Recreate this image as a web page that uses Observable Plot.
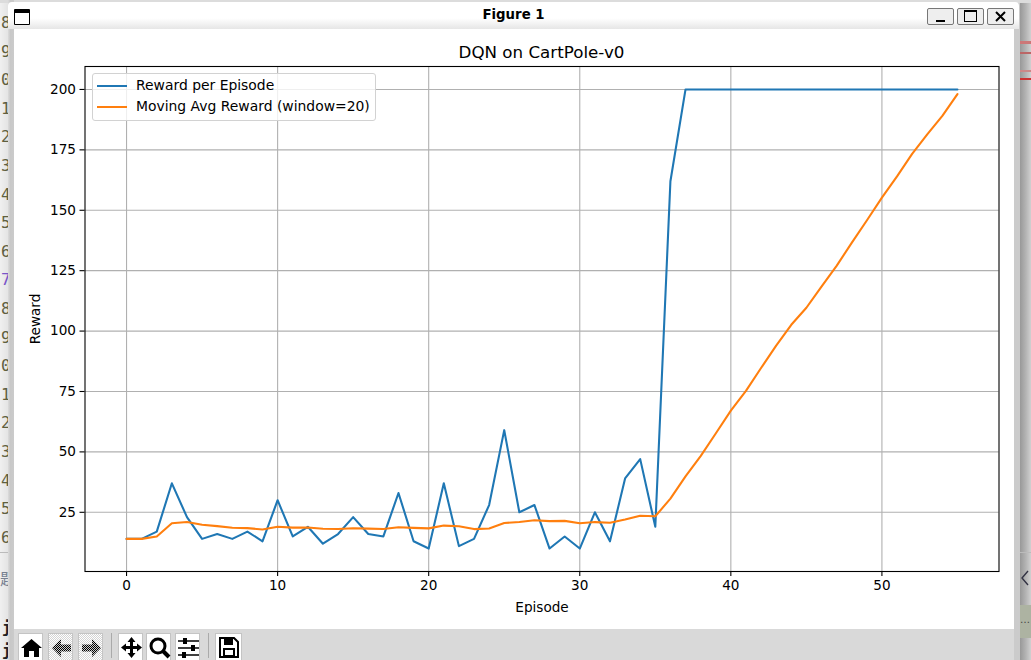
<!DOCTYPE html>
<html>
<head>
<meta charset="utf-8">
<script src="https://cdn.jsdelivr.net/npm/d3@7"></script>
<script src="https://cdn.jsdelivr.net/npm/@observablehq/plot@0.6"></script>
<style>
html,body{margin:0;padding:0;width:1031px;height:660px;overflow:hidden;background:#e6e6e6;font-family:"DejaVu Sans",sans-serif}
.abs{position:absolute}
#leftShade{left:0;top:0;width:8px;height:660px;background:linear-gradient(90deg,#f0f0f0 0,#e4e4e4 100%)}
#leftCover{left:8px;top:0;width:6px;height:660px;background:linear-gradient(90deg,#dcdcdc 0,#c8c8c8 40%,#cbcbcb 100%)}
#rightShade{left:1014px;top:0;width:17px;height:660px;background:linear-gradient(90deg,#cbcbcb 0,#cbcbcb 35%,#999 36%,#b4b4b4 70%,#d0d0d0 100%)}
#topShade{left:0;top:0;width:1031px;height:3px;background:#dcdcdc}
#win{left:14px;top:29px;width:1000px;height:600px;background:#fff}
#bar{left:8px;top:2px;width:1011px;height:27px;border-radius:4px 4px 0 0;background:linear-gradient(180deg,#fff 0,#fff 60%,#e6e6e6 100%)}
#barTitle{left:8px;top:7px;width:1011px;text-align:center;font:bold 13.3px "DejaVu Sans";color:#000}
#winIcon{left:14px;top:9px;width:14px;height:11px;border:1px solid #000;border-top:4px solid #000;background:#fff;border-radius:1px}
.wb{top:8px;width:25px;height:15px;border:1px solid #777;border-radius:2px;background:#eee}
#toolbar{left:14px;top:629px;width:1000px;height:31px;background:#d9d9d9}
.tb{top:633px;width:25px;height:27px;background:#fff;border:1px solid #c4c4c4;border-bottom:none;box-sizing:border-box}
.tb.off{background:repeating-conic-gradient(#d4d4d4 0 25%,#fff 0 50%) 0 0/2px 2px}
.tb svg{position:absolute;left:1px;top:2px}
.sep{top:633px;width:1px;height:25px;background:#aaa}
.ln{left:1px;font:16px/20px "DejaVu Sans Mono",monospace;color:#5f5f3f}
#title{left:14px;top:42px;width:1055px;text-align:center;font:16.7px "DejaVu Sans";color:#000}
#legend{left:92px;top:73px;width:282px;height:46px;background:rgba(255,255,255,.8);border:1px solid #d2d2d2;border-radius:3px;font:13.9px "DejaVu Sans";color:#000}
#legend .sw{position:absolute;left:4px;width:30px;height:2px}
#legend .tx{position:absolute;left:43px;white-space:nowrap;line-height:16px}
#plotHost{left:13px;top:28px}
</style>
</head>
<body>
<div class="abs" id="leftShade"></div>
<div class="abs" id="rightShade"></div>
<div class="abs" id="topShade"></div>
<div id="nums"></div>
<div class="abs" style="left:0;top:552px;width:8px;height:1px;background:#bbb"></div>
<div class="abs" style="left:1020px;top:552px;width:11px;height:1px;background:#bbb"></div>
<div class="abs" style="left:0;top:566px;font:16px 'Noto Sans CJK SC';color:#778090">题</div>
<div class="abs" style="left:2px;top:619px;font:bold 15px 'DejaVu Sans Mono';color:#222">j</div>
<div class="abs" style="left:2px;top:642px;font:bold 15px 'DejaVu Sans Mono';color:#222">j</div>
<div class="abs" id="leftCover"></div>
<div class="abs" style="left:1020px;top:605px;width:11px;height:33px;background:#adb3a2;color:#444;font:10px 'DejaVu Sans';line-height:30px">…</div>
<svg class="abs" style="left:1020px;top:570px" width="10" height="16"><path d="M8 1 L2 8 L8 15" fill="none" stroke="#334" stroke-width="1.4"/></svg>
<div class="abs" style="left:1020px;top:41px;width:11px;height:3px;background:#c77"></div>
<div class="abs" style="left:1020px;top:52px;width:11px;height:2px;background:#b66"></div>
<div class="abs" style="left:1020px;top:70px;width:11px;height:2px;background:#c88"></div>
<div class="abs" style="left:1020px;top:78px;width:11px;height:2px;background:#c33"></div>

<div class="abs" id="bar"></div>
<div class="abs" id="barTitle">Figure 1</div>
<div class="abs" id="winIcon"></div>
<div class="abs wb" style="left:927px"><div class="abs" style="left:8px;top:11px;width:9px;height:2px;background:#000"></div></div>
<div class="abs wb" style="left:957px"><div class="abs" style="left:6px;top:1px;width:11px;height:9px;border:1px solid #000;border-top:2px solid #000"></div></div>
<div class="abs wb" style="left:987px"><svg class="abs" style="left:7px;top:2px" width="11" height="11"><path d="M1 1 L10 10 M10 1 L1 10" stroke="#000" stroke-width="2"/></svg></div>
<div class="abs" id="win"></div>
<div class="abs" id="plotHost"></div>
<div class="abs" id="title">DQN on CartPole-v0</div>
<div class="abs" id="legend">
  <div class="sw" style="top:11px;background:#1f77b4"></div><div class="tx" style="top:3px">Reward per Episode</div>
  <div class="sw" style="top:32px;background:#ff7f0e"></div><div class="tx" style="top:24px">Moving Avg Reward (window=20)</div>
</div>
<div class="abs" id="toolbar"></div>
<div class="abs sep" style="left:111px"></div>
<div class="abs sep" style="left:208px"></div>
<svg width="0" height="0" style="position:absolute"><defs><pattern id="dith" width="2" height="2" patternUnits="userSpaceOnUse"><rect width="2" height="2" fill="#ccc"/><rect width="1" height="1" fill="#000"/><rect x="1" y="1" width="1" height="1" fill="#000"/></pattern></defs></svg>
<div class="abs tb" style="left:18px"><svg width="23" height="23" viewBox="0 0 23 23"><path d="M11.5 3 L22 12 H19 V21 H14 V15 H9 V21 H4 V12 H1 Z" fill="#000"/></svg></div>
<div class="abs tb off" style="left:48px"><svg width="23" height="23" viewBox="0 0 23 23"><path d="M11 3 L2 12 L11 21 V15.5 H21 V8.5 H11 Z" fill="url(#dith)"/></svg></div>
<div class="abs tb off" style="left:78px"><svg width="23" height="23" viewBox="0 0 23 23"><path d="M12 3 L21 12 L12 21 V15.5 H2 V8.5 H12 Z" fill="url(#dith)"/></svg></div>
<div class="abs tb" style="left:118px"><svg width="23" height="23" viewBox="0 0 23 23"><path d="M11.5 1 L15.5 6 H13 V10 H17 V7.5 L22 11.5 L17 15.5 V13 H13 V17 H15.5 L11.5 22 L7.5 17 H10 V13 H6 V15.5 L1 11.5 L6 7.5 V10 H10 V6 H7.5 Z" fill="#000"/></svg></div>
<div class="abs tb" style="left:146px"><svg width="23" height="23" viewBox="0 0 23 23"><circle cx="10" cy="10" r="7" fill="none" stroke="#000" stroke-width="3"/><path d="M15 15 L21 21" stroke="#000" stroke-width="4"/></svg></div>
<div class="abs tb" style="left:175px"><svg width="23" height="23" viewBox="0 0 23 23"><path d="M1 5 H22 M1 12 H22 M1 19 H22" stroke="#000" stroke-width="1.6"/><rect x="6" y="2" width="4" height="6" fill="#000"/><rect x="14" y="9" width="4" height="6" fill="#000"/><rect x="5" y="16" width="4" height="6" fill="#000"/></svg></div>
<div class="abs tb" style="left:215px;width:27px"><svg width="23" height="23" viewBox="0 0 23 23"><path d="M3 2 H17 L21 6 V21 H3 Z" fill="none" stroke="#000" stroke-width="2"/><rect x="7" y="3" width="9" height="6" fill="#000"/><rect x="7" y="13" width="10" height="7" fill="none" stroke="#000" stroke-width="2"/></svg></div>

<script>
const lineDigits = ["8","9","0","1","2","3","4","5","6","7","8","9","0","1","2","3","4","5","6"];
const episodes = [0,1,2,3,4,5,6,7,8,9,10,11,12,13,14,15,16,17,18,19,20,21,22,23,24,25,26,27,
  28,29,30,31,32,33,34,35,36,37,38,39,40,41,42,43,44,45,46,47,48,49,50,51,52,53,54,55];
const rewards = [14,14,17,37,23,14,16,14,17,13,30,15,19,12,16,23,16,15,33,13,10,37,11,14,28,59,25,28,
  10,15,10,25,13,39,47,19,162,200,200,200,200,200,200,200,200,200,200,200,200,200,200,200,200,200,200,200];
const movingAvg = [14,14,15,20.5,21,19.83,19.29,18.63,18.44,17.9,19,18.67,18.69,18.21,18.07,18.38,18.24,18.06,18.84,18.55,
  18.35,19.5,19.2,18.05,18.3,20.55,21,21.7,21.35,21.45,20.45,20.95,20.65,22,23.55,23.35,30.65,39.9,48.25,57.6,
  67.1,75.25,84.7,94,102.6,109.65,118.4,127,136.5,145.75,155.25,164,173.35,181.4,189.05,198.1];
const xTicks = [0,10,20,30,40,50];
const yTicks = [25,50,75,100,125,150,175,200];
const xDomain = [-2.75,57.75];
const yDomain = [0.5,209.5];

const nums = document.getElementById("nums");
lineDigits.forEach((d,i)=>{
  const e=document.createElement("div");
  e.className="abs ln";
  e.style.top=(13+i*28.6)+"px";
  if(d==="7") e.style.color="#7a55c8";
  e.textContent=d;
  nums.appendChild(e);
});

const rows = episodes.map((e,i)=>({e,r:rewards[i],m:movingAvg[i]}));
const axisStyle = {fontSize:13.6,tickSize:5,tickPadding:4};
const chart = Plot.plot({
  width:1000,height:600,
  marginLeft:71.5,marginRight:14.5,marginTop:38,marginBottom:57,
  x:{domain:xDomain},
  y:{domain:yDomain},
  style:{fontFamily:"DejaVu Sans",background:"transparent",color:"#000"},
  marks:[
    Plot.gridX(xTicks,{stroke:"#b0b0b0",strokeOpacity:1,strokeWidth:1.1}),
    Plot.gridY(yTicks,{stroke:"#b0b0b0",strokeOpacity:1,strokeWidth:1.1}),
    Plot.line(rows,{x:"e",y:"r",stroke:"#1f77b4",strokeWidth:2.08}),
    Plot.line(rows,{x:"e",y:"m",stroke:"#ff7f0e",strokeWidth:2.08}),
    Plot.frame({stroke:"#000",strokeWidth:1.1}),
    Plot.axisX({...axisStyle,ticks:xTicks,tickFormat:d=>String(d),label:"Episode",labelAnchor:"center",labelArrow:"none",labelOffset:40,strokeWidth:1.1,strokeOpacity:1}),
    Plot.axisY({...axisStyle,ticks:yTicks,tickFormat:d=>String(d),label:"Reward",labelAnchor:"center",labelArrow:"none",labelOffset:55,strokeWidth:1.1,strokeOpacity:1})
  ]
});
document.getElementById("plotHost").appendChild(chart);
</script>
</body>
</html>
